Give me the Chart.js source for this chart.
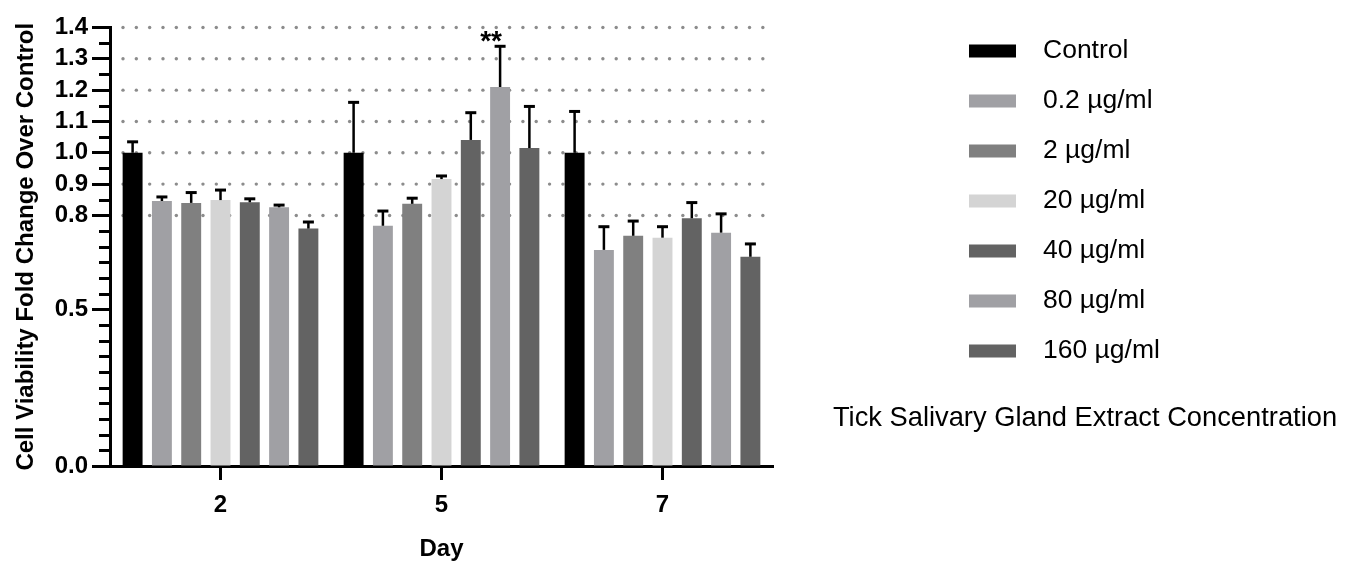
<!DOCTYPE html>
<html>
<head>
<meta charset="utf-8">
<script src="https://cdn.jsdelivr.net/npm/chart.js@4.4.1/dist/chart.umd.min.js"></script>
<style>
  html, body { margin: 0; padding: 0; background: #ffffff; }
  #chart { display: block; }
</style>
</head>
<body>
<canvas id="chart" width="1347" height="565"></canvas>
<script>
// categories (x axis)
const days = ['2', '5', '7'];

// series
const seriesNames = ['Control', '0.2 µg/ml', '2 µg/ml', '20 µg/ml', '40 µg/ml', '80 µg/ml', '160 µg/ml'];
const seriesColors = ['#000000', '#a0a0a4', '#808080', '#d4d4d4', '#636363', '#a0a0a4', '#636363'];

// mean fold change per day
const control = [1.00, 1.00, 1.00];
const conc02 = [0.846, 0.767, 0.690];
const conc2 = [0.840, 0.837, 0.735];
const conc20 = [0.849, 0.916, 0.729];
const conc40 = [0.842, 1.041, 0.791];
const conc80 = [0.826, 1.210, 0.745];
const conc160 = [0.758, 1.015, 0.668];

// upper error bar length per day
const controlErr = [0.035, 0.161, 0.132];
const conc02Err = [0.013, 0.047, 0.074];
const conc2Err = [0.033, 0.018, 0.047];
const conc20Err = [0.032, 0.010, 0.035];
const conc40Err = [0.011, 0.087, 0.050];
const conc80Err = [0.007, 0.130, 0.060];
const conc160Err = [0.021, 0.133, 0.041];

// y axis ticks
const yMajorTicks = [0, 0.5, 0.8, 0.9, 1.0, 1.1, 1.2, 1.3, 1.4];
const yMinorStep = 0.05;
const yGridTicks = [0.8, 0.9, 1.0, 1.1, 1.2, 1.3, 1.4];

// significance marks: [day index, series index, text]
const sigMarks = [[1, 5, '**']];

const legendTitle = 'Tick Salivary Gland Extract Concentration';

const means = [control, conc02, conc2, conc20, conc40, conc80, conc160];
const errs = [controlErr, conc02Err, conc2Err, conc20Err, conc40Err, conc80Err, conc160Err];

const FONT = '"Liberation Sans", Arial, sans-serif';
Chart.defaults.font.family = FONT;
Chart.defaults.color = '#000';

const dotGrid = {
    id: 'dotGrid',
    beforeDatasetsDraw(chart) {
        const { ctx, chartArea } = chart;
        const y = chart.scales.y;
        ctx.save();
        ctx.fillStyle = '#8c8c8c';
        yGridTicks.forEach(v => {
            const py = y.getPixelForValue(v);
            for (let px = chartArea.left + 13; px < chartArea.right; px += 13.33) {
                ctx.beginPath();
                ctx.arc(px, py, 1.7, 0, Math.PI * 2);
                ctx.fill();
            }
        });
        ctx.restore();
    }
};

const errorBars = {
    id: 'errorBars',
    afterDatasetsDraw(chart) {
        const { ctx } = chart;
        const y = chart.scales.y;
        ctx.save();
        ctx.strokeStyle = '#000';
        chart.data.datasets.forEach((ds, di) => {
            const meta = chart.getDatasetMeta(di);
            meta.data.forEach((bar, i) => {
                const top = y.getPixelForValue(ds.data[i] + ds.errors[i]);
                ctx.lineWidth = 2.5;
                ctx.beginPath();
                ctx.moveTo(bar.x, bar.y);
                ctx.lineTo(bar.x, top);
                ctx.stroke();
                ctx.lineWidth = 3;
                ctx.beginPath();
                ctx.moveTo(bar.x - 5.5, top);
                ctx.lineTo(bar.x + 5.5, top);
                ctx.stroke();
            });
        });
        // significance stars
        ctx.fillStyle = '#000';
        ctx.font = 'bold 28px ' + FONT;
        ctx.textAlign = 'center';
        ctx.textBaseline = 'alphabetic';
        sigMarks.forEach(([dayIdx, sIdx, text]) => {
            const bar = chart.getDatasetMeta(sIdx).data[dayIdx];
            const top = y.getPixelForValue(means[sIdx][dayIdx] + errs[sIdx][dayIdx]);
            ctx.fillText(text, bar.x - 9, top + 4);
        });
        ctx.restore();
    }
};

const minorTicks = {
    id: 'minorTicks',
    afterDraw(chart) {
        const { ctx } = chart;
        const y = chart.scales.y;
        ctx.save();
        ctx.strokeStyle = '#000';
        ctx.lineWidth = 3;
        for (let k = 0; k * yMinorStep <= 1.4 + 1e-9; k++) {
            const v = k * yMinorStep;
            if (yMajorTicks.some(m => Math.abs(m - v) < 1e-6)) continue;
            const py = Math.round(y.getPixelForValue(v)) + 0.5;
            ctx.beginPath();
            ctx.moveTo(y.right - 1, py);
            ctx.lineTo(y.right - 11, py);
            ctx.stroke();
        }
        ctx.restore();
    }
};

const sideLegend = {
    id: 'sideLegend',
    afterDraw(chart) {
        const { ctx } = chart;
        ctx.save();
        ctx.font = '26.5px ' + FONT;
        ctx.textBaseline = 'middle';
        ctx.textAlign = 'left';
        chart.data.datasets.forEach((ds, i) => {
            const cy = 51 + i * 50;
            ctx.fillStyle = ds.backgroundColor;
            ctx.fillRect(969, cy - 6.5, 47, 13);
            ctx.fillStyle = '#000';
            ctx.fillText(ds.label, 1043, cy);
        });
        ctx.font = '27.3px ' + FONT;
        ctx.textAlign = 'center';
        ctx.fillText(legendTitle, 1085, 418);
        ctx.restore();
    }
};

new Chart(document.getElementById('chart'), {
    type: 'bar',
    data: {
        labels: days,
        datasets: seriesNames.map((name, i) => ({
            label: name,
            data: means[i],
            errors: errs[i],
            backgroundColor: seriesColors[i],
            borderWidth: 0,
            categoryPercentage: 0.928,
            barPercentage: 0.68
        }))
    },
    options: {
        responsive: false,
        animation: false,
        devicePixelRatio: 1,
        layout: { padding: { left: 0, right: 574, top: 27.5, bottom: 0 } },
        plugins: {
            legend: { display: false },
            tooltip: { enabled: false }
        },
        scales: {
            x: {
                afterFit: s => { s.height = 99; },
                ticks: { font: { size: 24, weight: 'bold' }, color: '#000', padding: 11 },
                grid: { offset: false, drawOnChartArea: false, drawTicks: true, tickLength: 14, tickWidth: 3, tickColor: '#000' },
                border: { display: true, color: '#000', width: 3 },
                title: { display: true, text: 'Day', font: { size: 24, weight: 'bold' }, color: '#000', padding: { top: 0, bottom: 1 } }
            },
            y: {
                min: 0,
                max: 1.4,
                afterBuildTicks: s => { s.ticks = yMajorTicks.map(v => ({ value: v })); },
                afterFit: s => { s.width = 110; },
                ticks: { font: { size: 24, weight: 'bold' }, color: '#000', padding: 4, autoSkip: false, callback: v => Number(v).toFixed(1) },
                grid: { drawOnChartArea: false, drawTicks: true, tickLength: 18, tickWidth: 3, tickColor: '#000' },
                border: { display: true, color: '#000', width: 3 },
                title: { display: true, text: 'Cell Viability Fold Change Over Control', font: { size: 24, weight: 'bold' }, color: '#000', padding: { top: 12, bottom: 0 } }
            }
        }
    },
    plugins: [dotGrid, errorBars, minorTicks, sideLegend]
});
</script>
</body>
</html>
